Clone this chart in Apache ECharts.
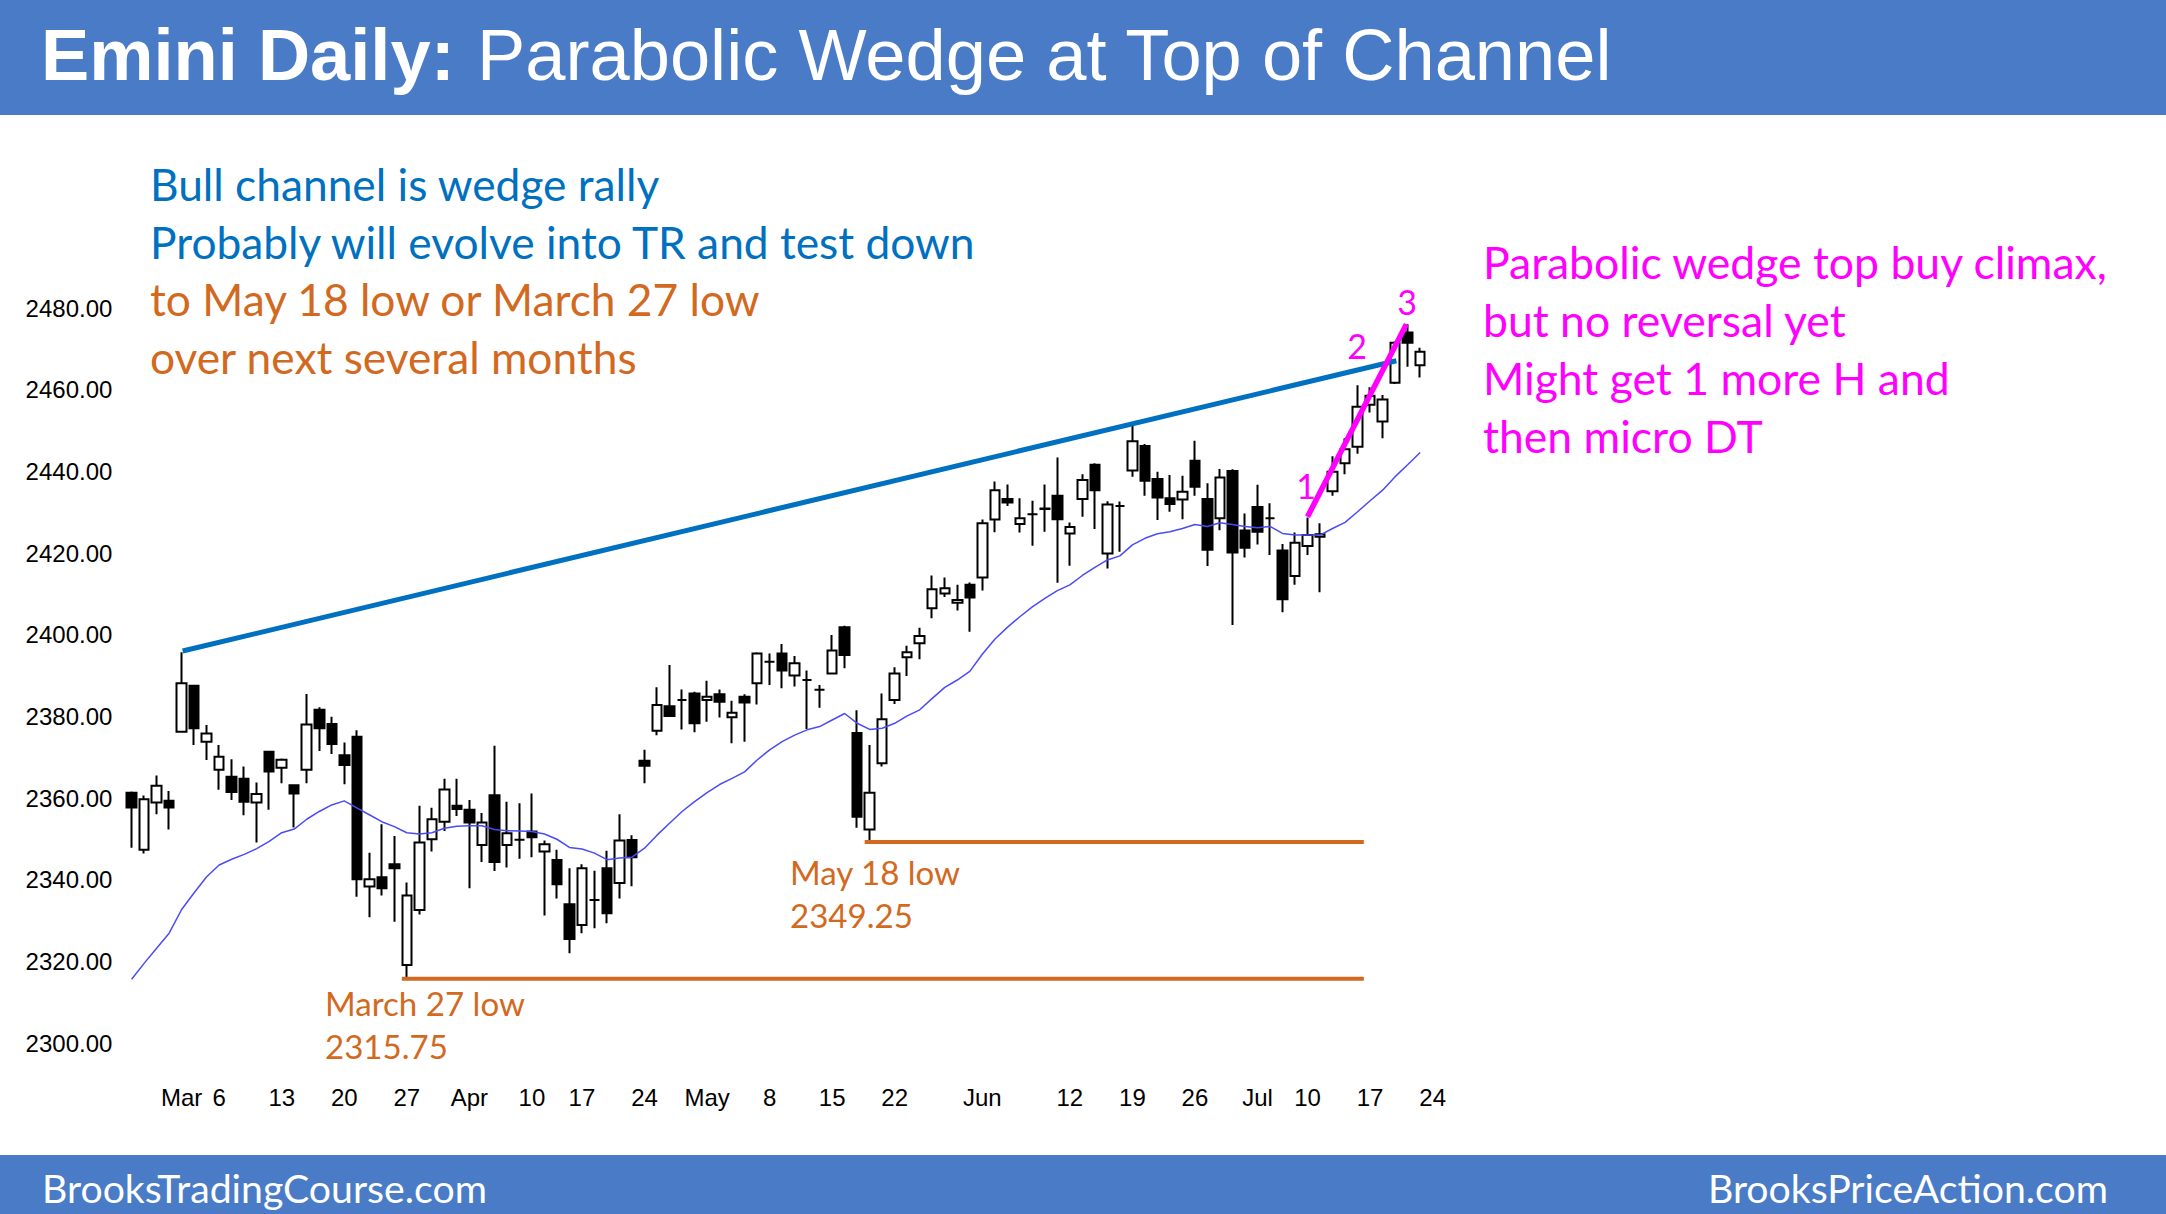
<!DOCTYPE html>
<html>
<head>
<meta charset="utf-8">
<script src="https://cdn.jsdelivr.net/npm/echarts@6/dist/echarts.min.js"></script>
<style>
html,body{margin:0;padding:0;background:#fff;}
#chart{width:2166px;height:1214px;}
</style>
</head>
<body>
<div id="chart"></div>
<script>
// ---------- DATA ----------
const dates = ['2/23','2/24','2/27','2/28',
 '3/1','3/2','3/3','3/6','3/7','3/8','3/9','3/10','3/13','3/14','3/15','3/16','3/17','3/20','3/21','3/22','3/23','3/24','3/27','3/28','3/29','3/30','3/31',
 '4/3','4/4','4/5','4/6','4/7','4/10','4/11','4/12','4/13','4/17','4/18','4/19','4/20','4/21','4/24','4/25','4/26','4/27','4/28',
 '5/1','5/2','5/3','5/4','5/5','5/8','5/9','5/10','5/11','5/12','5/15','5/16','5/17','5/18','5/19','5/22','5/23','5/24','5/25','5/26','5/30','5/31',
 '6/1','6/2','6/5','6/6','6/7','6/8','6/9','6/12','6/13','6/14','6/15','6/16','6/19','6/20','6/21','6/22','6/23','6/26','6/27','6/28','6/29','6/30',
 '7/3','7/5','7/6','7/7','7/10','7/11','7/12','7/13','7/14','7/17','7/18','7/19','7/20','7/21','7/24'];

const opens = [2361.3,2347.3,2358.9,2359.3,
 2376.2,2387.5,2373.8,2366.9,2365.2,2364.7,2358.9,2371.3,2367.4,2363.1,2366.9,2381.6,2378.1,2370.5,2375.0,2338.3,2340.6,2343.8,2319.1,2332.6,2349.9,2354.2,2358.1,
 2357.1,2348.5,2360.7,2348.5,2349.8,2351.8,2346.9,2344.8,2334.0,2328.9,2335.0,2342.8,2339.2,2349.7,2369.1,2376.5,2382.5,2384.0,2385.6,
 2384.0,2385.4,2379.8,2384.8,2388.1,2393.4,2395.4,2390.0,2388.9,2386.5,2390.5,2401.8,2375.9,2352.3,2368.5,2384.0,2394.5,2397.9,2406.5,2410.1,2407.8,2412.2,
 2414.0,2428.2,2433.2,2427.1,2429.5,2430.8,2434.0,2424.8,2433.2,2441.6,2419.9,2431.5,2440.2,2446.2,2438.1,2433.4,2433.1,2442.6,2433.2,2428.5,2440.1,2425.5,
 2431.3,2428.5,2420.6,2414.4,2421.7,2424.0,2435.1,2442.0,2446.0,2456.3,2452.2,2461.7,2474.0,2466.0];
const highs = [2361.6,2360.6,2365.5,2361.7,
 2395.7,2387.7,2377.9,2373.0,2369.5,2367.7,2363.8,2371.6,2369.7,2363.4,2385.5,2382.2,2379.9,2373.6,2376.6,2346.6,2353.6,2350.7,2339.3,2358.1,2357.6,2364.7,2364.7,
 2359.5,2356.3,2372.8,2359.1,2358.7,2361.1,2349.6,2347.3,2342.8,2343.8,2342.2,2347.1,2356.0,2350.9,2371.8,2387.1,2392.6,2386.6,2386.0,
 2388.7,2386.6,2383.8,2385.4,2395.7,2395.4,2397.7,2394.8,2391.2,2387.7,2399.9,2402.2,2381.5,2373.0,2385.6,2392.0,2397.3,2401.7,2414.5,2414.0,2412.2,2412.8,
 2428.2,2437.5,2436.8,2433.4,2432.8,2436.8,2443.4,2427.5,2439.3,2442.0,2432.7,2432.6,2451.1,2446.7,2439.9,2439.1,2438.9,2447.5,2437.1,2440.6,2440.5,2429.7,
 2436.7,2432.2,2422.2,2425.0,2428.7,2427.3,2443.7,2448.1,2461.1,2460.6,2458.7,2471.8,2476.0,2470.3];
const lows = [2347.8,2346.4,2356.0,2352.3,
 2376.0,2373.0,2369.3,2362.0,2359.5,2355.8,2349.1,2357.1,2363.6,2352.8,2363.6,2371.5,2370.8,2363.4,2335.8,2330.8,2336.1,2329.7,2315.75,2331.5,2346.9,2351.9,2355.6,
 2337.9,2344.3,2342.1,2343.0,2345.1,2345.5,2331.2,2335.4,2322.0,2326.9,2328.1,2329.3,2335.4,2338.4,2363.6,2375.4,2379.9,2376.8,2376.1,
 2378.7,2379.7,2373.4,2373.8,2382.9,2387.7,2386.9,2387.3,2376.9,2382.1,2390.3,2391.8,2352.7,2349.25,2367.7,2383.0,2389.9,2394.0,2404.0,2409.2,2405.9,2400.7,
 2410.8,2425.1,2431.5,2425.0,2421.8,2425.2,2412.7,2416.9,2428.9,2425.9,2416.2,2420.3,2438.7,2434.0,2428.1,2430.1,2428.3,2434.0,2416.8,2425.6,2402.4,2418.9,
 2422.1,2419.5,2405.5,2412.2,2419.5,2410.4,2434.0,2439.3,2444.3,2454.4,2448.1,2461.4,2465.6,2463.0];
const closes = [2357.7,2359.7,2363.0,2357.7,
 2388.1,2377.1,2375.8,2370.1,2361.5,2359.1,2361.0,2366.5,2369.4,2361.1,2378.0,2377.1,2373.2,2368.1,2340.1,2340.1,2337.9,2342.8,2336.1,2349.1,2354.8,2362.1,2357.3,
 2354.0,2354.0,2344.3,2351.4,2349.8,2350.4,2348.7,2338.9,2325.5,2342.8,2335.0,2331.8,2349.6,2345.5,2367.9,2382.8,2380.1,2384.0,2378.3,
 2384.8,2383.6,2380.9,2383.4,2395.4,2393.4,2391.2,2393.0,2388.9,2386.5,2396.1,2395.0,2355.4,2361.3,2379.3,2390.5,2395.7,2399.7,2411.1,2411.4,2408.5,2409.1,
 2427.3,2435.4,2432.4,2428.5,2429.5,2430.9,2428.3,2426.4,2437.9,2435.4,2431.9,2431.5,2447.4,2437.7,2433.6,2432.0,2435.0,2436.2,2420.8,2438.5,2420.1,2421.3,
 2425.2,2428.5,2408.7,2422.5,2424.4,2424.6,2439.9,2445.4,2455.8,2458.5,2457.6,2471.5,2471.5,2469.3];
const movingAvg = [2315.6,2319.5,2323.2,2326.9,
 2332.7,2336.8,2340.7,2343.6,2345.0,2346.2,2347.6,2349.4,2351.5,2352.4,2354.8,2356.7,2358.3,2359.3,2357.6,2355.9,2354.2,2353.0,2351.5,2351.2,2351.5,2352.6,2353.1,
 2353.2,2353.2,2352.3,2352.0,2351.9,2351.8,2351.2,2349.9,2347.9,2347.5,2346.5,2344.9,2345.3,2345.5,2347.7,2350.9,2353.8,2356.7,2359.1,
 2361.3,2363.3,2364.8,2366.4,2369.3,2371.8,2373.8,2375.4,2376.7,2377.5,2379.1,2380.7,2378.3,2376.8,2377.1,2378.3,2380.1,2381.6,2384.4,2387.1,2388.9,2391.0,
 2395.2,2398.9,2401.8,2404.4,2406.8,2408.9,2410.8,2412.2,2414.5,2416.5,2418.3,2419.3,2422.0,2423.6,2424.7,2425.2,2426.0,2427.0,2426.5,2427.4,2427.0,2426.5,
 2426.2,2426.5,2424.8,2424.4,2424.4,2424.4,2426.0,2427.5,2430.1,2432.8,2435.4,2438.7,2441.6,2444.6];

const tickLabels = {'3/1':'Mar','3/6':'6','3/13':'13','3/20':'20','3/27':'27','4/3':'Apr','4/10':'10','4/17':'17','4/24':'24',
 '5/1':'May','5/8':'8','5/15':'15','5/22':'22','6/1':'Jun','6/12':'12','6/19':'19','6/26':'26','7/3':'Jul','7/10':'10','7/17':'17','7/24':'24'};
const yMin = 2300, yMax = 2490, yStep = 20;

// annotation lines in (bar index, price) coordinates
const channelLine = [[4.08, 2396.0], [101.1, 2467.1]];
const wedgeLine = [[94.0, 2428.9], [101.9, 2476.0]];
const mar27Low = 2315.75, may18Low = 2349.25;
const mar27Line = [[21.6, mar27Low], [98.5, mar27Low]];
const may18Line = [[58.6, may18Low], [98.5, may18Low]];

// ---------- CHART ----------
const candles = opens.map((o, i) => [o, closes[i], lows[i], highs[i]]);

const mctx = document.createElement('canvas').getContext('2d');
function fit(text, weight, family, width) {
  mctx.font = weight + ' 100px ' + family;
  return 100 * width / mctx.measureText(text).width;
}
const LATO = 'Lato', ARIAL = '"Liberation Sans"';
function txt(text, x, baseline, size, family, weight, color, align) {
  const k = family === LATO ? 0.387 : 0.3465;
  return {
    type: 'text', x: x, y: baseline - k * size, z: 100,
    style: { text: text, font: weight + ' ' + size.toFixed(2) + 'px ' + family, fill: color,
      textAlign: align || 'left', textVerticalAlign: 'middle', align: align || 'left', verticalAlign: 'middle' }
  };
}

const BAND = '#4A7BC7', BLUE = '#0070C0', ORANGE = '#D2691E', MAGENTA = '#FF00FF';
const titleSize = fit('Parabolic Wedge at Top of Channel', 'normal', ARIAL, 1136);
const noteSize = fit('Probably will evolve into TR and test down', 'normal', LATO, 828);
const magSize = fit('Parabolic wedge top buy climax,', 'normal', LATO, 626);
const lowSize = fit('March 27 low', 'normal', LATO, 200);
const footSize = fit('BrooksTradingCourse.com', 'normal', LATO, 445);

const graphics = [
  { type: 'rect', shape: { x: 0, y: 0, width: 2166, height: 115 }, style: { fill: BAND }, z: 90 },
  { type: 'rect', shape: { x: 0, y: 1155, width: 2166, height: 59 }, style: { fill: BAND }, z: 90 },
  txt('Emini Daily:', 41, 80, titleSize, ARIAL, 'bold', '#fff'),
  txt('Parabolic Wedge at Top of Channel', 477, 80, titleSize, ARIAL, 'normal', '#fff'),
  txt('BrooksTradingCourse.com', 42, 1203, footSize, LATO, 'normal', '#fff'),
  txt('BrooksPriceAction.com', 2108, 1203, footSize, LATO, 'normal', '#fff', 'right'),
  txt('Bull channel is wedge rally', 150, 200.7, noteSize, LATO, 'normal', BLUE),
  txt('Probably will evolve into TR and test down', 150, 258.3, noteSize, LATO, 'normal', BLUE),
  txt('to May 18 low or March 27 low', 150, 315.7, noteSize, LATO, 'normal', ORANGE),
  txt('over next several months', 150, 373.3, noteSize, LATO, 'normal', ORANGE),
  txt('Parabolic wedge top buy climax,', 1483, 278.5, magSize, LATO, 'normal', MAGENTA),
  txt('but no reversal yet', 1483, 336.5, magSize, LATO, 'normal', MAGENTA),
  txt('Might get 1 more H and', 1483, 394.5, magSize, LATO, 'normal', MAGENTA),
  txt('then micro DT', 1483, 452.5, magSize, LATO, 'normal', MAGENTA),
  txt('May 18 low', 790, 885, lowSize, LATO, 'normal', ORANGE),
  txt('2349.25', 790, 928, lowSize, LATO, 'normal', ORANGE),
  txt('March 27 low', 325, 1016, lowSize, LATO, 'normal', ORANGE),
  txt('2315.75', 325, 1059, lowSize, LATO, 'normal', ORANGE),
  txt('1', 1306, 499, 34, LATO, 'normal', MAGENTA, 'center'),
  txt('2', 1357, 359, 34, LATO, 'normal', MAGENTA, 'center'),
  txt('3', 1407, 315, 34, LATO, 'normal', MAGENTA, 'center')
];

function segment(data, color, width) {
  return { type: 'line', xAxisIndex: 1, yAxisIndex: 0, data: data, symbol: 'none', silent: true,
    lineStyle: { color: color, width: width }, z: 5, clip: false };
}

const chart = echarts.init(document.getElementById('chart'), null, { renderer: 'svg', width: 2166, height: 1214 });
chart.setOption({
  animation: false,
  backgroundColor: '#fff',
  grid: { left: 125.35, right: 727.1, top: 267.2, bottom: 171 },
  xAxis: [
    { type: 'category', data: dates, boundaryGap: true,
      axisLine: { show: false }, axisTick: { show: false }, splitLine: { show: false },
      axisLabel: { interval: 0, margin: 42, color: '#000', fontSize: 24, fontFamily: 'Liberation Sans',
        formatter: function (v) { return tickLabels[v] || ''; } } },
    { type: 'value', min: -0.5, max: dates.length - 0.5, show: false }
  ],
  yAxis: { type: 'value', min: yMin, max: yMax, interval: yStep, scale: true,
    axisLine: { show: false }, axisTick: { show: false }, splitLine: { show: false },
    axisLabel: { margin: 13, color: '#000', fontSize: 24, fontFamily: 'Liberation Sans',
      formatter: function (v) { return (Math.round(v) % 20 === 0 && v <= 2480) ? v.toFixed(2) : ''; } } },
  series: [
    { type: 'candlestick', data: candles, barWidth: 10, z: 2,
      itemStyle: { color: '#fff', color0: '#000', borderColor: '#000', borderColor0: '#000', borderWidth: 2 } },
    { type: 'line', data: movingAvg, symbol: 'none', smooth: false, z: 3, silent: true,
      lineStyle: { color: '#4B4BF5', width: 1.5 } },
    segment(channelLine, BLUE, 5),
    segment(mar27Line, ORANGE, 4),
    segment(may18Line, ORANGE, 4),
    segment(wedgeLine, MAGENTA, 5.5)
  ],
  graphic: graphics
});
</script>
</body>
</html>
